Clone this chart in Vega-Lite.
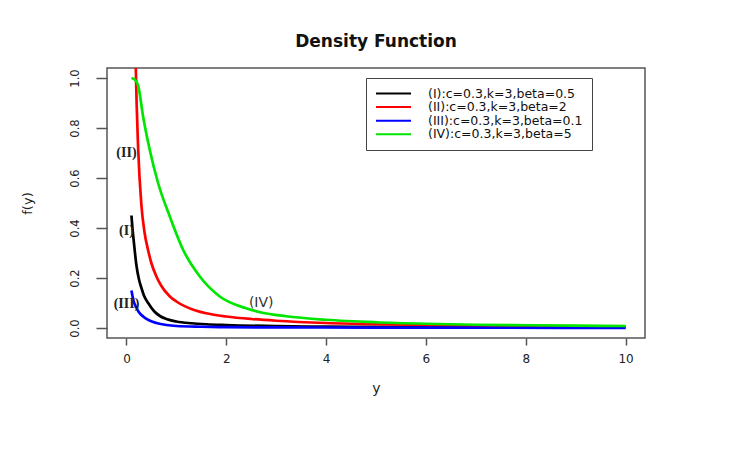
{
  "$schema": "https://vega.github.io/schema/vega-lite/v6.json",
  "width": 538,
  "height": 270,
  "autosize": {"type": "none"},
  "padding": {"left": 107, "top": 68, "right": 92, "bottom": 122},
  "background": "white",
  "config": {
    "view": {"stroke": "#555", "strokeWidth": 1.5},
    "font": "DejaVu Sans"
  },
  "title": {
    "text": "Density Function",
    "fontSize": 17,
    "fontWeight": "bold",
    "font": "DejaVu Sans",
    "color": "#111",
    "offset": 17,
    "anchor": "middle"
  },
  "datasets": {
    "curves": [
      {"series": "(I):c=0.3,k=3,beta=0.5", "y": 0.1, "fy": 0.45},
      {"series": "(I):c=0.3,k=3,beta=0.5", "y": 0.12, "fy": 0.4},
      {"series": "(I):c=0.3,k=3,beta=0.5", "y": 0.15, "fy": 0.34},
      {"series": "(I):c=0.3,k=3,beta=0.5", "y": 0.2, "fy": 0.25},
      {"series": "(I):c=0.3,k=3,beta=0.5", "y": 0.25, "fy": 0.195},
      {"series": "(I):c=0.3,k=3,beta=0.5", "y": 0.3, "fy": 0.16},
      {"series": "(I):c=0.3,k=3,beta=0.5", "y": 0.35, "fy": 0.13},
      {"series": "(I):c=0.3,k=3,beta=0.5", "y": 0.435, "fy": 0.1},
      {"series": "(I):c=0.3,k=3,beta=0.5", "y": 0.55, "fy": 0.068},
      {"series": "(I):c=0.3,k=3,beta=0.5", "y": 0.67, "fy": 0.048},
      {"series": "(I):c=0.3,k=3,beta=0.5", "y": 0.8, "fy": 0.036},
      {"series": "(I):c=0.3,k=3,beta=0.5", "y": 1.0, "fy": 0.026},
      {"series": "(I):c=0.3,k=3,beta=0.5", "y": 1.3, "fy": 0.019},
      {"series": "(I):c=0.3,k=3,beta=0.5", "y": 1.6, "fy": 0.015},
      {"series": "(I):c=0.3,k=3,beta=0.5", "y": 2, "fy": 0.012},
      {"series": "(I):c=0.3,k=3,beta=0.5", "y": 3, "fy": 0.0075},
      {"series": "(I):c=0.3,k=3,beta=0.5", "y": 4, "fy": 0.0055},
      {"series": "(I):c=0.3,k=3,beta=0.5", "y": 5, "fy": 0.0045},
      {"series": "(I):c=0.3,k=3,beta=0.5", "y": 6, "fy": 0.0038},
      {"series": "(I):c=0.3,k=3,beta=0.5", "y": 8, "fy": 0.0028},
      {"series": "(I):c=0.3,k=3,beta=0.5", "y": 10, "fy": 0.0022},
      {"series": "(II):c=0.3,k=3,beta=2", "y": 0.1, "fy": 3.2},
      {"series": "(II):c=0.3,k=3,beta=2", "y": 0.15, "fy": 1.55},
      {"series": "(II):c=0.3,k=3,beta=2", "y": 0.187, "fy": 1.04},
      {"series": "(II):c=0.3,k=3,beta=2", "y": 0.234, "fy": 0.72},
      {"series": "(II):c=0.3,k=3,beta=2", "y": 0.3, "fy": 0.49},
      {"series": "(II):c=0.3,k=3,beta=2", "y": 0.36, "fy": 0.385},
      {"series": "(II):c=0.3,k=3,beta=2", "y": 0.435, "fy": 0.31},
      {"series": "(II):c=0.3,k=3,beta=2", "y": 0.5, "fy": 0.259},
      {"series": "(II):c=0.3,k=3,beta=2", "y": 0.6, "fy": 0.206},
      {"series": "(II):c=0.3,k=3,beta=2", "y": 0.7, "fy": 0.168},
      {"series": "(II):c=0.3,k=3,beta=2", "y": 0.87, "fy": 0.126},
      {"series": "(II):c=0.3,k=3,beta=2", "y": 1.0, "fy": 0.106},
      {"series": "(II):c=0.3,k=3,beta=2", "y": 1.34, "fy": 0.073},
      {"series": "(II):c=0.3,k=3,beta=2", "y": 1.7, "fy": 0.055},
      {"series": "(II):c=0.3,k=3,beta=2", "y": 2, "fy": 0.046},
      {"series": "(II):c=0.3,k=3,beta=2", "y": 2.5, "fy": 0.036},
      {"series": "(II):c=0.3,k=3,beta=2", "y": 3, "fy": 0.029},
      {"series": "(II):c=0.3,k=3,beta=2", "y": 4, "fy": 0.02},
      {"series": "(II):c=0.3,k=3,beta=2", "y": 5, "fy": 0.015},
      {"series": "(II):c=0.3,k=3,beta=2", "y": 6, "fy": 0.012},
      {"series": "(II):c=0.3,k=3,beta=2", "y": 7, "fy": 0.0095},
      {"series": "(II):c=0.3,k=3,beta=2", "y": 8, "fy": 0.008},
      {"series": "(II):c=0.3,k=3,beta=2", "y": 9, "fy": 0.007},
      {"series": "(II):c=0.3,k=3,beta=2", "y": 10, "fy": 0.006},
      {"series": "(III):c=0.3,k=3,beta=0.1", "y": 0.1, "fy": 0.15},
      {"series": "(III):c=0.3,k=3,beta=0.1", "y": 0.14, "fy": 0.11},
      {"series": "(III):c=0.3,k=3,beta=0.1", "y": 0.187, "fy": 0.086},
      {"series": "(III):c=0.3,k=3,beta=0.1", "y": 0.25, "fy": 0.063},
      {"series": "(III):c=0.3,k=3,beta=0.1", "y": 0.334, "fy": 0.046},
      {"series": "(III):c=0.3,k=3,beta=0.1", "y": 0.45, "fy": 0.031},
      {"series": "(III):c=0.3,k=3,beta=0.1", "y": 0.6, "fy": 0.02},
      {"series": "(III):c=0.3,k=3,beta=0.1", "y": 0.8, "fy": 0.012},
      {"series": "(III):c=0.3,k=3,beta=0.1", "y": 1.0, "fy": 0.008},
      {"series": "(III):c=0.3,k=3,beta=0.1", "y": 1.5, "fy": 0.005},
      {"series": "(III):c=0.3,k=3,beta=0.1", "y": 2, "fy": 0.0035},
      {"series": "(III):c=0.3,k=3,beta=0.1", "y": 3, "fy": 0.0025},
      {"series": "(III):c=0.3,k=3,beta=0.1", "y": 5, "fy": 0.0015},
      {"series": "(III):c=0.3,k=3,beta=0.1", "y": 7.5, "fy": 0.001},
      {"series": "(III):c=0.3,k=3,beta=0.1", "y": 10, "fy": 0.0008},
      {"series": "(IV):c=0.3,k=3,beta=5", "y": 0.1, "fy": 1.0},
      {"series": "(IV):c=0.3,k=3,beta=5", "y": 0.16, "fy": 0.995},
      {"series": "(IV):c=0.3,k=3,beta=5", "y": 0.234, "fy": 0.97},
      {"series": "(IV):c=0.3,k=3,beta=5", "y": 0.334, "fy": 0.845},
      {"series": "(IV):c=0.3,k=3,beta=5", "y": 0.468, "fy": 0.711},
      {"series": "(IV):c=0.3,k=3,beta=5", "y": 0.635, "fy": 0.579},
      {"series": "(IV):c=0.3,k=3,beta=5", "y": 0.87, "fy": 0.445},
      {"series": "(IV):c=0.3,k=3,beta=5", "y": 1.137, "fy": 0.312},
      {"series": "(IV):c=0.3,k=3,beta=5", "y": 1.47, "fy": 0.206},
      {"series": "(IV):c=0.3,k=3,beta=5", "y": 1.87, "fy": 0.126},
      {"series": "(IV):c=0.3,k=3,beta=5", "y": 2.41, "fy": 0.078},
      {"series": "(IV):c=0.3,k=3,beta=5", "y": 2.7, "fy": 0.062},
      {"series": "(IV):c=0.3,k=3,beta=5", "y": 3.2, "fy": 0.047},
      {"series": "(IV):c=0.3,k=3,beta=5", "y": 4, "fy": 0.033},
      {"series": "(IV):c=0.3,k=3,beta=5", "y": 5, "fy": 0.023},
      {"series": "(IV):c=0.3,k=3,beta=5", "y": 6, "fy": 0.017},
      {"series": "(IV):c=0.3,k=3,beta=5", "y": 7, "fy": 0.013},
      {"series": "(IV):c=0.3,k=3,beta=5", "y": 8, "fy": 0.011},
      {"series": "(IV):c=0.3,k=3,beta=5", "y": 9, "fy": 0.0095},
      {"series": "(IV):c=0.3,k=3,beta=5", "y": 10, "fy": 0.008}
    ],
    "serifLabels": [
      {"x": 0, "fy": 0.7, "label": "(II)"},
      {"x": 0, "fy": 0.39, "label": "(I)"},
      {"x": 0, "fy": 0.095, "label": "(III)"}
    ],
    "sansLabels": [
      {"x": 2.7, "fy": 0.1, "label": "(IV)"}
    ]
  },
  "layer": [
    {
      "data": {"name": "curves"},
      "mark": {"type": "line", "strokeWidth": 2.7, "clip": true, "interpolate": "monotone"},
      "encoding": {
        "x": {
          "field": "y",
          "type": "quantitative",
          "scale": {"domain": [-0.39, 10.39], "nice": false, "zero": false},
          "axis": {
            "title": "y",
            "values": [0, 2, 4, 6, 8, 10],
            "domain": false,
            "grid": false,
            "tickSize": 7,
            "tickColor": "#555",
            "tickWidth": 1.5,
            "labelFontSize": 12,
            "labelFont": "DejaVu Sans",
            "labelColor": "#222",
            "labelPadding": 8,
            "titleFontSize": 14,
            "titleFont": "DejaVu Sans",
            "titleFontWeight": "normal",
            "titleColor": "#222",
            "titlePadding": 17
          }
        },
        "y": {
          "field": "fy",
          "type": "quantitative",
          "scale": {"domain": [-0.04, 1.04], "nice": false, "zero": false},
          "axis": {
            "title": "f(y)",
            "values": [0, 0.2, 0.4, 0.6, 0.8, 1.0],
            "format": ".1f",
            "domain": false,
            "grid": false,
            "tickSize": 11,
            "tickColor": "#555",
            "tickWidth": 1.5,
            "labelAngle": 270,
            "labelAlign": "center",
            "labelBaseline": "bottom",
            "labelFontSize": 11.5,
            "labelFont": "DejaVu Sans",
            "labelColor": "#222",
            "labelPadding": 16,
            "titleFontSize": 13,
            "titleFont": "DejaVu Sans",
            "titleFontWeight": "normal",
            "titleColor": "#222",
            "titlePadding": 35
          }
        },
        "color": {
          "field": "series",
          "type": "nominal",
          "scale": {
            "domain": ["(I):c=0.3,k=3,beta=0.5", "(II):c=0.3,k=3,beta=2", "(III):c=0.3,k=3,beta=0.1", "(IV):c=0.3,k=3,beta=5"],
            "range": ["#000000", "#ff0000", "#0000ff", "#00e600"]
          },
          "legend": {
            "title": null,
            "orient": "none",
            "legendX": 259,
            "legendY": 10,
            "strokeColor": "#444",
            "fillColor": "white",
            "padding": 9,
            "symbolType": "stroke",
            "symbolStrokeWidth": 2,
            "symbolSize": 1225,
            "clipHeight": 13,
            "labelFontSize": 12.5,
            "labelFont": "DejaVu Sans",
            "labelColor": "#111",
            "labelOffset": 16,
            "labelLimit": 400,
            "rowPadding": 0.6
          }
        }
      }
    },
    {
      "data": {"name": "serifLabels"},
      "mark": {"type": "text", "font": "Liberation Serif", "fontWeight": "bold", "fontSize": 14, "color": "#222"},
      "encoding": {
        "x": {"field": "x", "type": "quantitative"},
        "y": {"field": "fy", "type": "quantitative"},
        "text": {"field": "label"}
      }
    },
    {
      "data": {"name": "sansLabels"},
      "mark": {"type": "text", "font": "DejaVu Sans", "fontSize": 14, "color": "#333"},
      "encoding": {
        "x": {"field": "x", "type": "quantitative"},
        "y": {"field": "fy", "type": "quantitative"},
        "text": {"field": "label"}
      }
    }
  ]
}
